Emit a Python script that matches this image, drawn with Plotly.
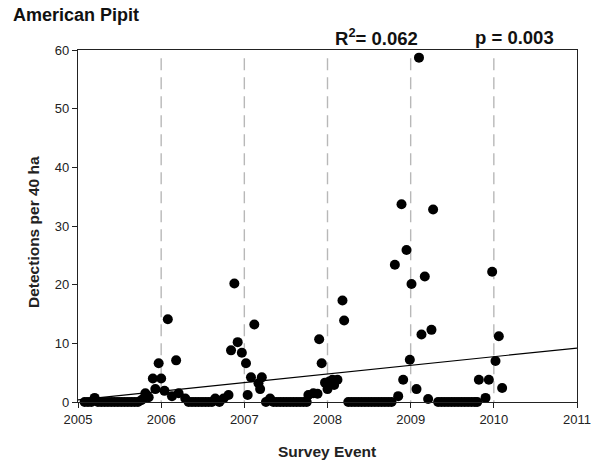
import plotly.graph_objects as go

# Survey events (decimal year) and detections per 40 ha
survey_x = [
    2005.08, 2005.12, 2005.16, 2005.20, 2005.24, 2005.28, 2005.32, 2005.36, 2005.40, 2005.44,
    2005.48, 2005.52, 2005.56, 2005.60, 2005.64, 2005.68, 2005.72, 2005.76, 2005.79, 2005.81,
    2005.85, 2005.90, 2005.93, 2005.97, 2006.00, 2006.04, 2006.08, 2006.13, 2006.18, 2006.21,
    2006.29, 2006.33, 2006.37, 2006.41, 2006.45, 2006.49, 2006.53, 2006.57, 2006.61, 2006.65,
    2006.70, 2006.75, 2006.81, 2006.84, 2006.88, 2006.92, 2006.97, 2007.02, 2007.04, 2007.08,
    2007.12, 2007.17, 2007.19, 2007.21, 2007.26, 2007.31, 2007.35, 2007.39, 2007.43, 2007.47,
    2007.51, 2007.55, 2007.59, 2007.63, 2007.67, 2007.71, 2007.75, 2007.77, 2007.83, 2007.88,
    2007.90, 2007.93, 2007.97, 2008.00, 2008.02, 2008.06, 2008.08, 2008.12, 2008.18, 2008.20,
    2008.25, 2008.29, 2008.33, 2008.37, 2008.41, 2008.45, 2008.49, 2008.53, 2008.57, 2008.61,
    2008.65, 2008.69, 2008.73, 2008.77, 2008.81, 2008.85, 2008.89, 2008.91, 2008.95, 2008.99,
    2009.01, 2009.07, 2009.10, 2009.13, 2009.17, 2009.21, 2009.25, 2009.27, 2009.33, 2009.37,
    2009.41, 2009.45, 2009.49, 2009.53, 2009.57, 2009.61, 2009.65, 2009.69, 2009.73, 2009.77,
    2009.80, 2009.82, 2009.90, 2009.94, 2009.98, 2010.02, 2010.06, 2010.10,
]
detections = [
    0.0, 0.0, 0.0, 0.7, 0.0, 0.0, 0.0, 0.0, 0.0, 0.0,
    0.0, 0.0, 0.0, 0.0, 0.0, 0.0, 0.0, 0.3, 0.6, 1.5,
    0.8, 4.0, 2.2, 6.6, 4.0, 1.9, 14.1, 1.0, 7.1, 1.5,
    0.6, 0.0, 0.0, 0.0, 0.0, 0.0, 0.0, 0.0, 0.0, 0.6,
    0.0, 0.6, 1.2, 8.8, 20.2, 10.2, 8.4, 6.6, 1.2, 4.2,
    13.2, 3.2, 2.2, 4.2, 0.0, 0.6, 0.0, 0.0, 0.0, 0.0,
    0.0, 0.0, 0.0, 0.0, 0.0, 0.0, 0.0, 1.2, 1.5, 1.4,
    10.7, 6.6, 3.3, 2.2, 3.5, 3.8, 2.9, 3.8, 17.3, 13.9,
    0.0, 0.0, 0.0, 0.0, 0.0, 0.0, 0.0, 0.0, 0.0, 0.0,
    0.0, 0.0, 0.0, 0.0, 23.4, 1.0, 33.7, 3.8, 25.9, 7.2,
    20.1, 2.2, 58.7, 11.5, 21.4, 0.5, 12.3, 32.8, 0.0, 0.0,
    0.0, 0.0, 0.0, 0.0, 0.0, 0.0, 0.0, 0.0, 0.0, 0.0,
    0.0, 3.8, 0.7, 3.8, 22.2, 7.0, 11.2, 2.4,
]

# Regression line endpoints
fit_x = [2005.0, 2011.0]
fit_y = [0.35, 9.2]

year_lines = [2006, 2007, 2008, 2009, 2010]
x_ticks = [2005, 2006, 2007, 2008, 2009, 2010, 2011]
y_ticks = [0, 10, 20, 30, 40, 50, 60]

FONT = "Arial, Liberation Sans, sans-serif"
W, H = 592, 462
PL, PR, PT, PB = 78, 577, 50, 402  # plot area in pixels


def px_x(px):
    return (px - PL) / (PR - PL)


def px_y(py):
    return (PB - py) / (PB - PT)


fig = go.Figure()

for yr in year_lines:
    fig.add_shape(type="line", x0=yr, x1=yr, y0=58.6, y1=0, xref="x", yref="y",
                  line=dict(color="#b8b8b8", width=1.4, dash="12px,7px"), layer="below")

fig.add_trace(go.Scatter(x=fit_x, y=fit_y, mode="lines",
                         line=dict(color="black", width=1.2), showlegend=False,
                         hoverinfo="skip"))
fig.add_trace(go.Scatter(x=survey_x, y=detections, mode="markers",
                         marker=dict(color="black", size=10, line=dict(width=0)),
                         showlegend=False, cliponaxis=False))

fig.update_layout(
    width=W, height=H,
    margin=dict(l=PL, r=W - PR, t=PT, b=H - PB, autoexpand=False),
    paper_bgcolor="white", plot_bgcolor="white",
    font=dict(family=FONT, color="black", size=13),
    showlegend=False,
)

axis_common = dict(showgrid=False, zeroline=False, showline=True, linecolor="#222", linewidth=1.3,
                   mirror=True, ticks="outside", ticklen=5, tickcolor="#222", automargin=False,
                   tickfont=dict(size=13, family=FONT, color="#222"))
fig.update_xaxes(range=[2005, 2011], tickvals=x_ticks, ticktext=[str(t) for t in x_ticks],
                 **axis_common)
fig.update_yaxes(range=[0, 60], tickvals=y_ticks, **axis_common)

# Title
fig.add_annotation(text="<b>American Pipit</b>", x=px_x(11), y=px_y(15), xref="paper", yref="paper",
                   xanchor="left", yanchor="middle", showarrow=False,
                   font=dict(size=18, family=FONT, color="#111"))
# Axis titles
fig.add_annotation(text="<b>Survey Event</b>", x=px_x(327), y=px_y(451), xref="paper", yref="paper",
                   xanchor="center", yanchor="middle", showarrow=False,
                   font=dict(size=15.5, family=FONT, color="#222"))
fig.add_annotation(text="<b>Detections per 40 ha</b>", x=px_x(33), y=px_y(232), xref="paper", yref="paper",
                   xanchor="center", yanchor="middle", showarrow=False, textangle=-90,
                   font=dict(size=15.5, family=FONT, color="#222"))
# Statistics
fig.add_annotation(text="<b>R<sup>2</sup>= 0.062</b>", x=px_x(376), y=px_y(37), xref="paper", yref="paper",
                   xanchor="center", yanchor="middle", showarrow=False,
                   font=dict(size=18.5, family=FONT, color="#111"))
fig.add_annotation(text="<b>p = 0.003</b>", x=px_x(514), y=px_y(37), xref="paper", yref="paper",
                   xanchor="center", yanchor="middle", showarrow=False,
                   font=dict(size=18.5, family=FONT, color="#111"))

fig.write_html("out.html")
